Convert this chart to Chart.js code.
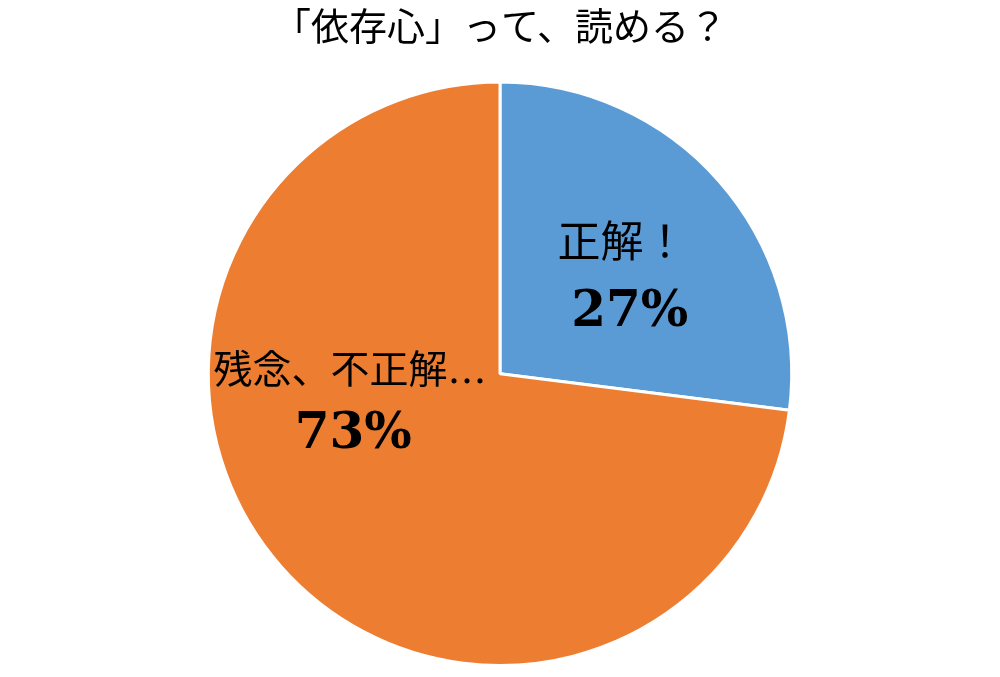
<!DOCTYPE html>
<html lang="ja">
<head>
    <meta charset="UTF-8">
    <title>依存心</title>
    <script src="https://cdn.jsdelivr.net/npm/chart.js"></script>
    <style>
        body{margin:0;background:#fff;}
        #pieChart{display:block;}
    </style>
</head>
<body>
    <canvas id="pieChart" width="1000" height="677"></canvas>
    <script>
        // データ
        const titleText='「依存心」って、読める？';
        const labels=['正解！','残念、不正解…'];
        const values=[27,73];
        const valueLabels=['27%','73%'];
        const colors=['#5B9BD5','#ED7D31'];

        const serifFont='"DejaVu Serif","Liberation Serif","Noto Sans CJK JP",serif';

        // ラベル位置（中心からの相対位置、半径に対する比）とフォントサイズ
        const labelPos=[
            {x:0.418,y:-0.44,numX:0.445,numY:-0.209,size:43},
            {x:-0.514,y:-0.003,numX:-0.503,numY:0.209,size:39}
        ];

        const labelPlugin={
            id:'sliceLabels',
            afterDatasetsDraw(chart){
                const meta=chart.getDatasetMeta(0);
                const c=chart.ctx;
                meta.data.forEach((arc,i)=>{
                    const r=arc.outerRadius;
                    const p=labelPos[i];
                    c.save();
                    c.fillStyle='#000';
                    c.textAlign='center';
                    c.textBaseline='middle';
                    c.font=p.size+'px '+serifFont;
                    c.fillText(labels[i],arc.x+p.x*r,arc.y+p.y*r);
                    c.font='bold 50px '+serifFont;
                    c.fillText(valueLabels[i],arc.x+p.numX*r,arc.y+p.numY*r);
                    c.restore();
                });
            }
        };

        new Chart(document.getElementById('pieChart'),{
            type:'pie',
            data:{
                labels:labels,
                datasets:[{
                    data:values,
                    backgroundColor:colors,
                    borderColor:'#fff',
                    borderWidth:3
                }]
            },
            options:{
                responsive:false,
                animation:false,
                layout:{padding:{bottom:10}},
                plugins:{
                    legend:{display:false},
                    tooltip:{enabled:false},
                    title:{
                        display:true,
                        text:titleText,
                        color:'#000',
                        font:{size:38,family:serifFont,weight:'normal'},
                        padding:{top:7,bottom:28}
                    }
                }
            },
            plugins:[labelPlugin]
        });
    </script>
</body>
</html>
